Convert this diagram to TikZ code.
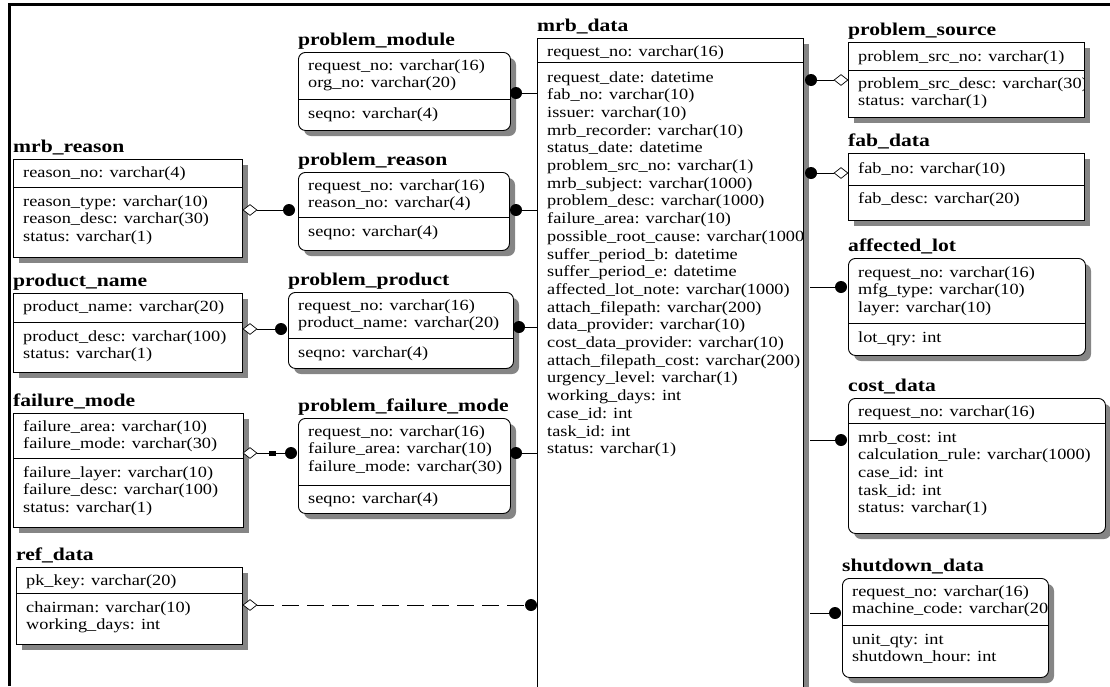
\documentclass[tikz,border=0pt]{standalone}
\usepackage{fontspec}
\setmainfont{Liberation Serif}
\newfontfamily\fieldfont{Liberation Serif}[FakeStretch=1.18]
\newfontfamily\titlefont{Liberation Serif}[FakeStretch=1.2]
\usetikzlibrary{shapes.geometric,calc}
\tikzset{
  ebox/.style={draw=black, fill=white, line width=0.9pt, inner sep=0pt, anchor=north west},
  eshadow/.style={fill=black!48},
  etitle/.style={font=\titlefont\bfseries\fontsize{18pt}{20pt}\selectfont, anchor=base west, inner sep=0pt},
  efields/.style={font=\fieldfont\fontsize{15.5pt}{17.7pt}\selectfont, anchor=base west, inner sep=0pt},
  dot/.style={circle, fill=black, inner sep=0pt, minimum size=12pt},
  dia/.style={diamond, draw=black, fill=white, inner sep=0pt, minimum width=14pt, minimum height=11pt, line width=0.7pt},
  rel/.style={line width=0.8pt},
  frameline/.style={line width=3pt},
}
% #1 name, #2 corner style, #3 x, #4 y, #5 w, #6 h, #7 divider y, #8 title
\newcommand{\ent}[8]{%
  \fill[eshadow,#2] (#3+6,#4+6) rectangle (#3+#5+6,#4+#6+6);
  \node[ebox,#2, minimum width=#5pt, minimum height=#6pt] (#1) at (#3,#4) {};
  \draw[line width=0.9pt] (#3,#7) -- (#3+#5,#7);
  \node[etitle] (#1-t) at (#3,#4-7) {#8};
}
% #1 entity, #2 suffix, #3 x, #4 first baseline, #5 list
\newcommand{\flds}[5]{%
  \begin{scope}
    \clip (#1.north west) rectangle (#1.south east);
    \foreach \t [count=\i from 0] in {#5} {\node[efields] (#1-#2\i) at (#3+10,#4+\i*17.7) {\t};}
  \end{scope}}
\begin{document}
\begin{tikzpicture}[x=1pt,y=-1pt]
\useasboundingbox (0,0) rectangle (1110,686);
\coordinate (fa) at (9,686);
\coordinate (fb) at (9,4.5);
\coordinate (fc) at (1110,4.5);
\draw[frameline] (fa) -- (fb) -- (fc);

% ---------------- entities ----------------
\ent{pm}{rounded corners=7pt}{298}{52}{212}{78}{99}{problem\_module}
\flds{pm}{k}{298}{70}{request\_no: varchar(16), org\_no: varchar(20)}
\flds{pm}{b}{298}{118}{seqno: varchar(4)}

\ent{mr}{sharp corners}{13}{159}{229}{98}{187}{mrb\_reason}
\flds{mr}{k}{13}{177}{reason\_no: varchar(4)}
\flds{mr}{b}{13}{206}{reason\_type: varchar(10), reason\_desc: varchar(30), status: varchar(1)}

\ent{pr}{rounded corners=7pt}{298}{172}{211}{78}{217}{problem\_reason}
\flds{pr}{k}{298}{190}{request\_no: varchar(16), reason\_no: varchar(4)}
\flds{pr}{b}{298}{236}{seqno: varchar(4)}

\ent{pn}{sharp corners}{13}{293}{229}{79}{322}{product\_name}
\flds{pn}{k}{13}{311}{product\_name: varchar(20)}
\flds{pn}{b}{13}{341}{product\_desc: varchar(100), status: varchar(1)}

\ent{pp}{rounded corners=7pt}{288}{292}{225}{76}{338}{problem\_product}
\flds{pp}{k}{288}{310}{request\_no: varchar(16), product\_name: varchar(20)}
\flds{pp}{b}{288}{357}{seqno: varchar(4)}

\ent{fm}{sharp corners}{13}{413}{230}{114}{458}{failure\_mode}
\flds{fm}{k}{13}{431}{failure\_area: varchar(10), failure\_mode: varchar(30)}
\flds{fm}{b}{13}{477}{failure\_layer: varchar(10), failure\_desc: varchar(100), status: varchar(1)}

\ent{pfm}{rounded corners=7pt}{298}{418}{212}{95}{485}{problem\_failure\_mode}
\flds{pfm}{k}{298}{436}{request\_no: varchar(16), failure\_area: varchar(10), failure\_mode: varchar(30)}
\flds{pfm}{b}{298}{503}{seqno: varchar(4)}

\ent{rd}{sharp corners}{16}{567}{226}{77}{593}{ref\_data}
\flds{rd}{k}{16}{585}{pk\_key: varchar(20)}
\flds{rd}{b}{16}{612}{chairman: varchar(10), working\_days: int}

\ent{md}{sharp corners}{537}{38}{266}{660}{62}{mrb\_data}
\flds{md}{k}{537}{56}{request\_no: varchar(16)}
\flds{md}{b}{537}{82}{request\_date: datetime, fab\_no: varchar(10), issuer: varchar(10), mrb\_recorder: varchar(10), status\_date: datetime, problem\_src\_no: varchar(1), mrb\_subject: varchar(1000), problem\_desc: varchar(1000), failure\_area: varchar(10), possible\_root\_cause: varchar(1000), suffer\_period\_b: datetime, suffer\_period\_e: datetime, affected\_lot\_note: varchar(1000), attach\_filepath: varchar(200), data\_provider: varchar(10), cost\_data\_provider: varchar(10), attach\_filepath\_cost: varchar(200), urgency\_level: varchar(1), working\_days: int, case\_id: int, task\_id: int, status: varchar(1)}

\ent{ps}{sharp corners}{848}{42}{236}{75}{70}{problem\_source}
\flds{ps}{k}{848}{61}{problem\_src\_no: varchar(1)}
\flds{ps}{b}{848}{88}{problem\_src\_desc: varchar(30), status: varchar(1)}

\ent{fd}{sharp corners}{848}{153}{236}{67}{185}{fab\_data}
\flds{fd}{k}{848}{173}{fab\_no: varchar(10)}
\flds{fd}{b}{848}{203}{fab\_desc: varchar(20)}

\ent{al}{rounded corners=7pt}{848}{258}{237}{97}{323}{affected\_lot}
\flds{al}{k}{848}{277}{request\_no: varchar(16), mfg\_type: varchar(10), layer: varchar(10)}
\flds{al}{b}{848}{342}{lot\_qry: int}

\ent{cd}{rounded corners=7pt}{848}{398}{257}{135}{423}{cost\_data}
\flds{cd}{k}{848}{416}{request\_no: varchar(16)}
\flds{cd}{b}{848}{442}{mrb\_cost: int, calculation\_rule: varchar(1000), case\_id: int, task\_id: int, status: varchar(1)}

\ent{sd}{rounded corners=7pt}{842}{578}{206}{99}{625}{shutdown\_data}
\flds{sd}{k}{842}{596}{request\_no: varchar(16), machine\_code: varchar(20)}
\flds{sd}{b}{842}{644}{unit\_qty: int, shutdown\_hour: int}

% ---------------- relationships ----------------
\coordinate (mdR) at (810,300);
% mrb_data -> dependent tables on the left
\node[dot] (c1) at (516,93) {};
\draw[rel] (c1) -- (c1 -| md.west);
\node[dot] (c2) at (516,210) {};
\draw[rel] (c2) -- (c2 -| md.west);
\node[dot] (c3) at (519,327) {};
\draw[rel] (c3) -- (c3 -| md.west);
\node[dot] (c4) at (516,453) {};
\draw[rel] (c4) -- (c4 -| md.west);
% lookup tables -> association tables
\node[dia] (k6) at (250,210) {};
\node[dot] (c6) at (289,210) {};
\draw[rel] (k6) -- (c6);
\node[dia] (k7) at (250,329) {};
\node[dot] (c7) at (281,329) {};
\draw[rel] (k7) -- (c7);
\node[dia] (k8) at (250,453) {};
\node[dot] (c8) at (291,453) {};
\draw[rel] (k8) -- (c8);
\node[fill=black, inner sep=0pt, minimum width=7pt, minimum height=5pt] (q8) at (272,453) {};
% ref_data -> mrb_data (dashed)
\node[dia] (k5) at (250,605) {};
\node[dot] (c5) at (531,605) {};
\draw[rel, dash pattern=on 17pt off 8pt] (k5) -- (c5);
% right side
\node[dot] (c9) at (811,80) {};
\node[dia] (k9) at (841,80) {};
\draw[rel] (c9) -- (k9);
\node[dot] (c10) at (811,173) {};
\node[dia] (k10) at (841,173) {};
\draw[rel] (c10) -- (k10);
\node[dot] (c11) at (841,287) {};
\draw[rel] (c11) -- (c11 -| mdR);
\node[dot] (c12) at (841,440) {};
\draw[rel] (c12) -- (c12 -| mdR);
\node[dot] (c13) at (835,613) {};
\draw[rel] (c13) -- (c13 -| mdR);
\end{tikzpicture}
\end{document}
